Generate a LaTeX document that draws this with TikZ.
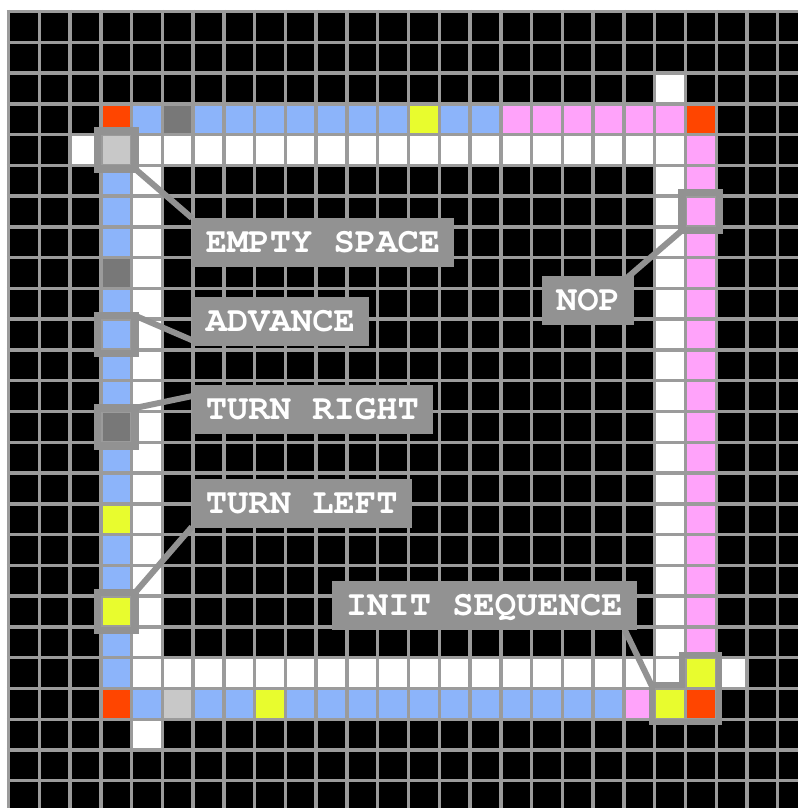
\documentclass[tikz,border=0pt]{standalone}
\usepackage[T1,TU]{fontenc}
\usepackage{tikz}

\definecolor{cellred}{HTML}{FF4500}
\definecolor{cellblue}{HTML}{8CB4FA}
\definecolor{cellpink}{HTML}{FFA3FA}
\definecolor{cellyellow}{HTML}{E8FC2E}
\definecolor{celldark}{HTML}{787878}
\definecolor{celllight}{HTML}{C8C8C8}
\definecolor{gridgray}{HTML}{9B9B9B}
\definecolor{markgray}{HTML}{929292}

\begin{document}
\begin{tikzpicture}[x=30.77pt, y=-30.77pt,
  gridline/.style={draw=gridgray, line width=3.4pt},
  cellmark/.style={draw=markgray, line width=7.5pt, minimum size=37.8pt, inner sep=0pt, outer sep=0pt},
  tag/.style={fill=markgray, text=white,
    font=\fontencoding{T1}\fontfamily{pcr}\fontseries{b}\fontsize{35.5}{40}\selectfont,
    inner xsep=14pt, inner ysep=0pt, minimum height=49pt, text height=20.5pt, text depth=0pt, outer sep=0pt},
  pin/.style={draw=markgray, line width=6pt}]
\useasboundingbox (-0.2762,-0.3737) rectangle (25.658,25.886);
\fill[white] (-0.2762,-0.3737) rectangle (25.658,25.886);
\fill[black] (0,0) rectangle (25.658,25.886);

% white track
\foreach \c in {4,...,21} {
  \fill[white] (\c,4) rectangle ++(1,1);
  \fill[white] (\c,21) rectangle ++(1,1);
}
\foreach \r in {5,...,20} {
  \fill[white] (4,\r) rectangle ++(1,1);
  \fill[white] (21,\r) rectangle ++(1,1);
}
\foreach \c/\r in {21/2, 2/4, 23/21, 4/23}
  \fill[white] (\c,\r) rectangle ++(1,1);

% top program row
\foreach \c in {4,6,7,8,9,10,11,12,14,15}
  \fill[cellblue] (\c,3) rectangle ++(1,1);
\foreach \c in {16,...,21}
  \fill[cellpink] (\c,3) rectangle ++(1,1);
\fill[celldark] (5,3) rectangle ++(1,1);
\fill[cellyellow] (13,3) rectangle ++(1,1);

% bottom program row
\foreach \c in {4,6,7,9,10,11,12,13,14,15,16,17,18,19}
  \fill[cellblue] (\c,22) rectangle ++(1,1);
\fill[celllight] (5,22) rectangle ++(1,1);
\fill[cellyellow] (8,22) rectangle ++(1,1);
\fill[cellpink] (20,22) rectangle ++(1,1);
\fill[cellyellow] (21,22) rectangle ++(1,1);

% left program column
\foreach \r in {5,6,7,9,10,11,12,14,15,17,18,20,21}
  \fill[cellblue] (3,\r) rectangle ++(1,1);
\foreach \r in {8,13}
  \fill[celldark] (3,\r) rectangle ++(1,1);
\foreach \r in {16,19}
  \fill[cellyellow] (3,\r) rectangle ++(1,1);
\fill[celllight] (3,4) rectangle ++(1,1);

% right program column
\foreach \r in {4,...,20}
  \fill[cellpink] (22,\r) rectangle ++(1,1);
\fill[cellyellow] (22,21) rectangle ++(1,1);

% corners
\foreach \c/\r in {3/3, 22/3, 3/22, 22/22}
  \fill[cellred] (\c,\r) rectangle ++(1,1);

% grid
\foreach \i in {0,...,25} {
  \draw[gridline] (\i,-0.055) -- (\i,25.886);
  \draw[gridline] (-0.055,\i) -- (25.658,\i);
}

% marked cells
\node[cellmark] (emptymark) at (3.5,4.5) {};
\node[cellmark] (advmark) at (3.5,10.5) {};
\node[cellmark] (rightmark) at (3.5,13.5) {};
\node[cellmark] (leftmark) at (3.5,19.5) {};
\node[cellmark] (nopmark) at (22.5,6.5) {};
\draw[draw=markgray, line width=6pt] (20.9,21.9) -- (21.9,21.9) -- (21.9,20.9)
  -- (23.1,20.9) -- (23.1,23.1) -- (20.9,23.1) -- cycle;
\coordinate (initnotch) at (20.9,21.9);

% labels
\coordinate (emptypin) at (5.96,6.71);
\draw[pin] (emptymark.south east) -- (emptypin);
\node[tag, anchor=north west] (emptytag) at (emptypin) {EMPTY SPACE};

\coordinate (advpin) at (5.96,10.68);
\draw[pin] (advmark.north east) -- (advpin);
\node[tag, anchor=north west] (advtag) at (5.96,9.28) {ADVANCE};

\coordinate (rightpin) at (5.96,12.5);
\draw[pin] (rightmark.north east) -- (rightpin);
\node[tag, anchor=north west] (righttag) at (5.96,12.14) {TURN RIGHT};

\coordinate (leftpin) at (5.96,16.75);
\draw[pin] (leftmark.north east) -- (leftpin);
\node[tag, anchor=north west] (lefttag) at (5.96,15.19) {TURN LEFT};

\coordinate (noppin) at (20.05,8.7);
\draw[pin] (nopmark.south west) -- (noppin);
\node[tag, anchor=north west] (noptag) at (17.34,8.6) {NOP};

\coordinate (initpin) at (20.03,20.1);
\draw[pin] (initpin) -- (initnotch);
\node[tag, anchor=north west] (inittag) at (10.51,18.51) {INIT SEQUENCE};
\end{tikzpicture}
\end{document}
